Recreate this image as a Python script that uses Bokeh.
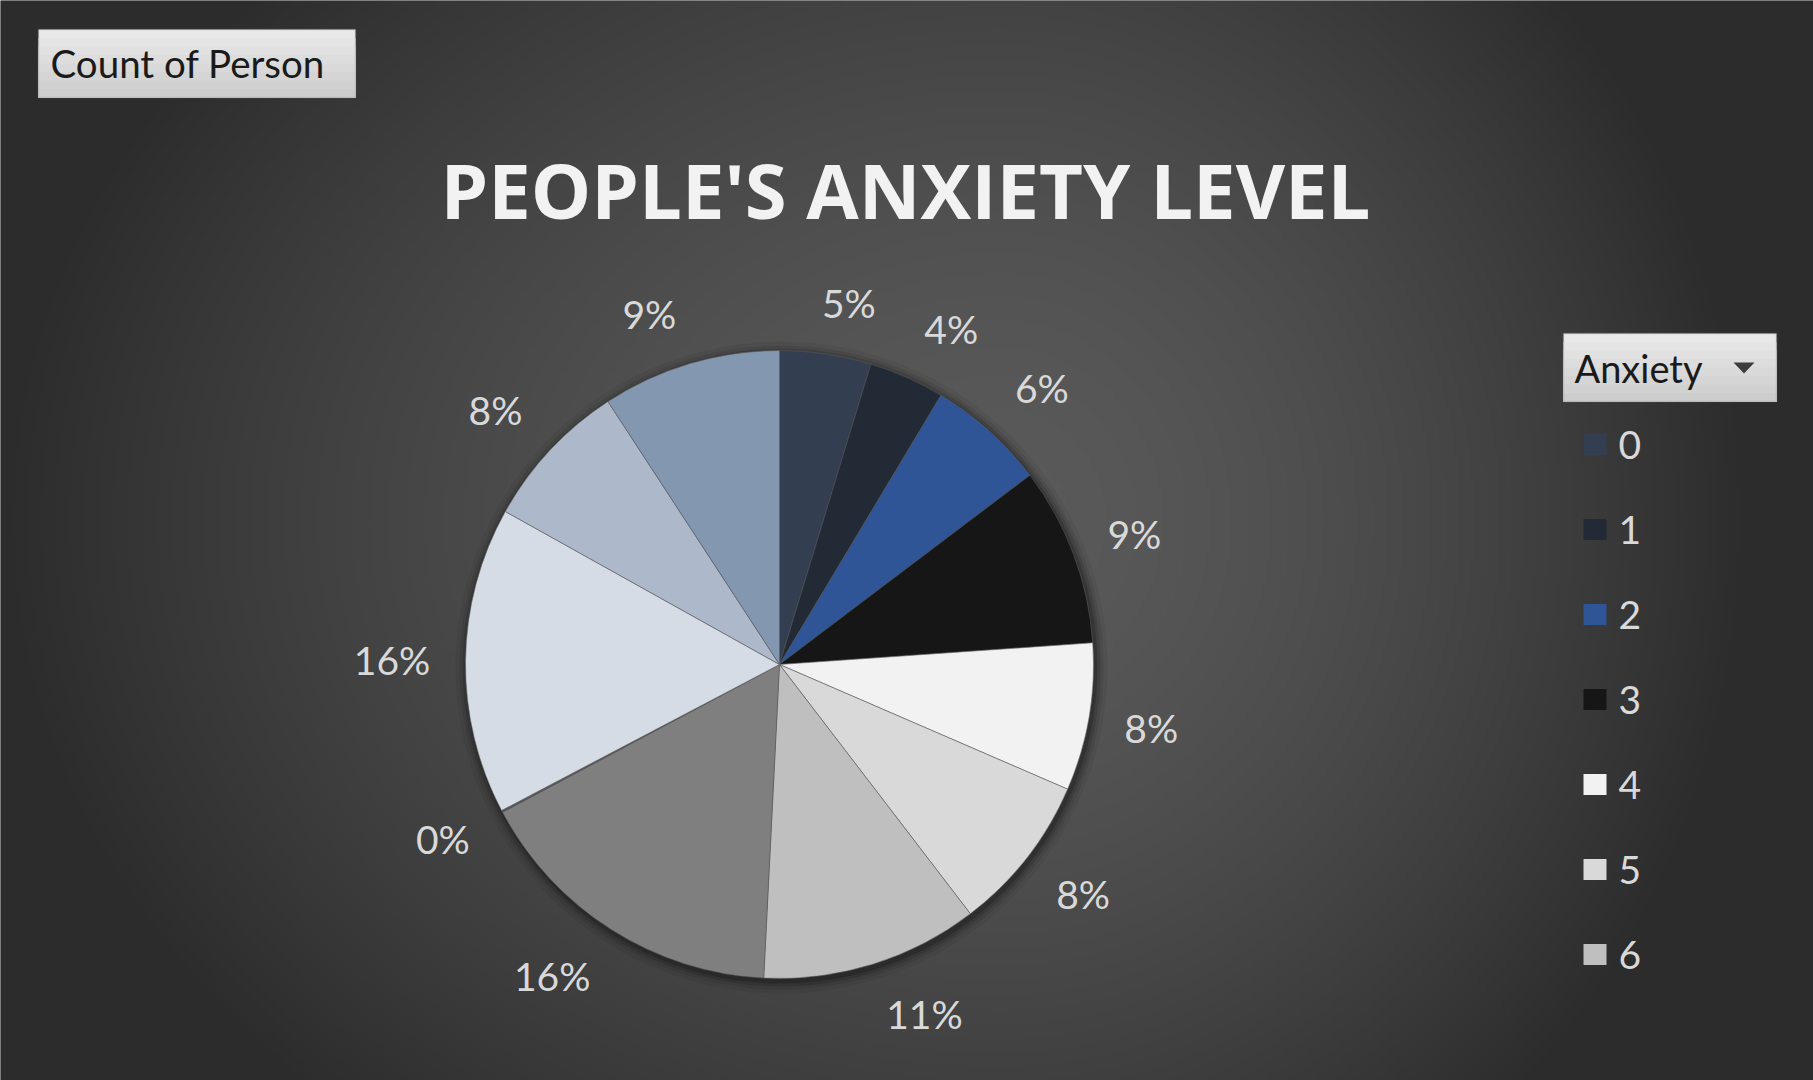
import numpy as np
from bokeh.plotting import figure
from bokeh.models import ColumnDataSource, Range1d, BoxAnnotation, PolyAnnotation
from bokeh.core.properties import value
from bokeh.embed import file_html
from bokeh.resources import INLINE

# ---------------- data ----------------
levels = ["0", "1", "2", "3", "4", "5", "6", "7", "8", "9", "10", "11"]
counts = [47, 39, 61, 92, 76, 81, 112, 164, 1, 158, 77, 92]
colors = ["#333F50", "#222A35", "#2F5597", "#161616", "#F2F2F2", "#D9D9D9",
          "#BFBFBF", "#7F7F7F", "#595959", "#D6DCE5", "#ADB9CA", "#8497B0"]
legend_shown = levels[:7]
title_text = "PEOPLE'S ANXIETY LEVEL"
field_button = "Count of Person"
legend_button = "Anxiety"

# ---------------- canvas ----------------
W, H = 1813, 1080
p = figure(width=W, height=H, x_range=Range1d(0, W), y_range=Range1d(0, H),
           output_backend="svg", toolbar_location=None, min_border=0,
           x_axis_type=None, y_axis_type=None)
p.grid.visible = False
p.outline_line_color = None
p.background_fill_color = "#3a3a3a"
p.border_fill_color = "#3a3a3a"

# radial background gradient
gw, gh = 454, 270
gx = (np.arange(gw) + 0.5) * W / gw
gy = (np.arange(gh) + 0.5) * H / gh
X, Y = np.meshgrid(gx, gy)
gcx, gcy = 1000.0, H - 520.0
rx = np.where(X < gcx, 1000.0, 750.0)
ry = 800.0
t = np.clip(np.sqrt(((X - gcx) / rx) ** 2 + ((Y - gcy) / ry) ** 2), 0, 1)
g = (90 - (90 - 44) * t ** 1.6).astype(np.uint8)
img = np.zeros((gh, gw), dtype=np.uint32)
view = img.view(dtype=np.uint8).reshape((gh, gw, 4))
view[..., 0] = g
view[..., 1] = g
view[..., 2] = g
view[..., 3] = 255
p.image_rgba(image=[img], x=0, y=0, dw=W, dh=H, level="image")

# ---------------- pie ----------------
cx, cy, R = 779.0, H - 664.0, 314.0
total = float(sum(counts))
fr = np.array(counts) / total
ends = np.cumsum(fr)
starts = ends - fr
start_angle = np.pi / 2 - ends * 2 * np.pi
end_angle = np.pi / 2 - starts * 2 * np.pi

# soft outer shadow
for dr, a in [(12, 0.05), (8, 0.08), (5, 0.12), (2, 0.18)]:
    p.circle(x=[cx + 2], y=[cy - 3], radius=R + dr, fill_color="black",
             fill_alpha=a, line_color=None)

src = ColumnDataSource(dict(level=levels, count=counts, start=start_angle,
                            end=end_angle, color=colors))
p.wedge(x=cx, y=cy, radius=R, start_angle="start", end_angle="end",
        fill_color="color", line_color="#5a5a5a", line_alpha=0.55, line_width=1,
        source=src)

# data labels (outside end, box anchored to the rim point)
mid = (starts + ends) / 2
theta = np.pi / 2 - mid * 2 * np.pi
pct = [f"{round(100 * c / total)}%" for c in counts]
text_w = np.array([21.5 * (len(s) - 1) + 30 for s in pct])
hw = text_w / 2 + 6
hh = 20.0
dx, dy = np.cos(theta), np.sin(theta)
r_anchor = R + 31
lx = cx + r_anchor * dx + hw * np.clip(dx / 0.25, -1, 1)
ly = cy + r_anchor * dy + hh * np.clip(dy / 0.7, -1, 1)
lab_src = ColumnDataSource(dict(x=lx, y=ly, text=pct))
p.text(x="x", y="y", text="text", source=lab_src, text_align="center",
       text_baseline="middle", text_font=value("Lato"), text_font_size="39px",
       text_color="#D9D9D9")

# ---------------- title ----------------
p.text(x=[905], y=[H - 189], text=[title_text], text_align="center",
       text_baseline="middle", text_font=value("Open Sans"), text_font_style="bold",
       text_font_size="76px", text_color="#F2F2F2")


# ---------------- field buttons ----------------
def button(left, right, top_s, bottom_s):
    n = 8
    hgt = (bottom_s - top_s) / n
    for k in range(n):
        c = int(233 - (233 - 205) * k / (n - 1))
        p.add_layout(BoxAnnotation(left=left, right=right,
                                   top=H - (top_s + k * hgt), bottom=H - bottom_s,
                                   fill_color=f"#{c:02x}{c:02x}{c:02x}", fill_alpha=1.0,
                                   line_color=None, level="underlay"))
    p.add_layout(BoxAnnotation(left=left, right=right, top=H - top_s, bottom=H - bottom_s,
                               fill_alpha=0.0, line_color="#8A8A8A", line_width=1.5,
                               level="underlay"))


button(38, 355, 29, 97)
p.text(x=[50], y=[H - 62], text=[field_button], text_align="left", text_baseline="middle",
       text_font=value("Lato"), text_font_size="38.5px", text_color="#1A1A1A",
       level="overlay")

button(1563, 1776, 333, 401)
p.text(x=[1574], y=[H - 367], text=[legend_button], text_align="left", text_baseline="middle",
       text_font=value("Lato"), text_font_size="38px", text_color="#1A1A1A",
       level="overlay")
p.add_layout(PolyAnnotation(xs=[1733, 1754, 1743.5], ys=[H - 362, H - 362, H - 373],
                            fill_color="#3c3c3c", fill_alpha=1.0, line_color=None))

# ---------------- legend (truncated, as in the reference) ----------------
leg_top, leg_step = 444.0, 85.0
leg_y = [H - (leg_top + leg_step * i) for i in range(len(legend_shown))]
leg_src = ColumnDataSource(dict(y=leg_y, label=legend_shown, color=colors[:len(legend_shown)]))
p.rect(x=1594.5, y="y", width=23, height=21, fill_color="color", line_color=None, source=leg_src)
p.text(x=1618, y="y", text="label", source=leg_src, text_align="left", text_baseline="middle",
       text_font=value("Lato"), text_font_size="39px", text_color="#D9D9D9")

open("out.html", "w").write(file_html(p, INLINE))
